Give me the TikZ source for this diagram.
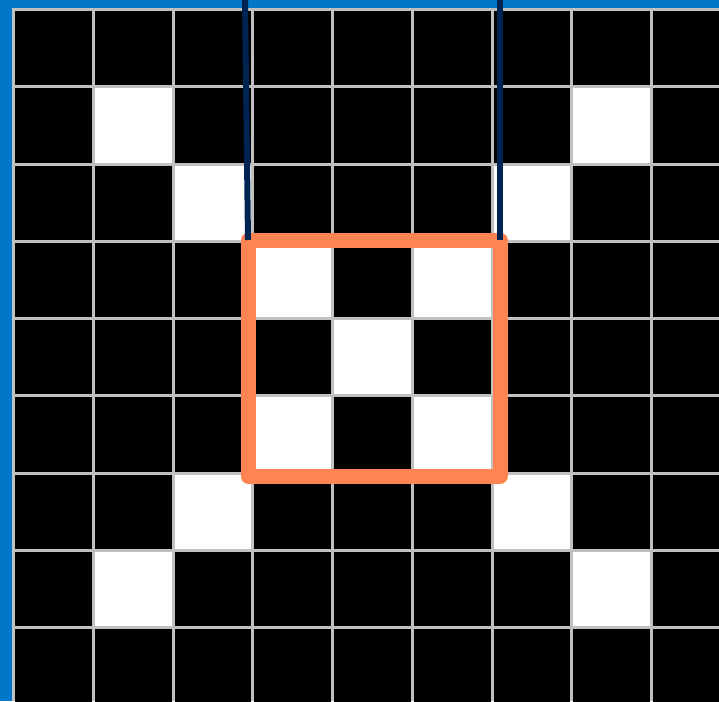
\documentclass[tikz,border=0pt]{standalone}
\definecolor{bgblue}{HTML}{0077C8}
\definecolor{gridgray}{HTML}{C0C0C0}
\definecolor{winorange}{HTML}{FF8452}
\definecolor{navyline}{HTML}{002452}
\tikzset{
  window/.style={draw=winorange, line width=15pt, line join=round, outer sep=0pt, inner sep=0pt},
  lead/.style={draw=navyline, line width=6pt}
}
\begin{document}
\begin{tikzpicture}[x=1pt,y=-1pt]
\useasboundingbox (0,0) rectangle (719,701);
\clip (0,0) rectangle (719,701);
\fill[bgblue] (0,0) rectangle (719,701);
\fill[gridgray] (12,8) rectangle (719,701);
\foreach \j in {0,...,8} {
  \foreach \i in {0,...,8} {
    \pgfmathsetmacro\xa{12+79.75*\i+3}
    \pgfmathsetmacro\xb{12+79.75*(\i+1)}
    \pgfmathsetmacro\ya{8+77.25*\j+3}
    \pgfmathsetmacro\yb{8+77.25*(\j+1)}
    \pgfmathtruncatemacro\w{((\i==\j)||(\i+\j==8))&&(\j>0)&&(\j<8)}
    \ifnum\w=1 \def\col{white}\else\def\col{black}\fi
    \fill[\col] (\xa,\ya) rectangle (\xb,\yb);
  }
}
\node[window, minimum width=252pt, minimum height=236pt] (win) at (374,358) {};
\coordinate (lt) at (245,0);
\coordinate (rt) at (500,0);
\draw[lead] (lt) -- (win.north west);
\draw[lead] (rt) -- (win.north east);
\end{tikzpicture}
\end{document}
